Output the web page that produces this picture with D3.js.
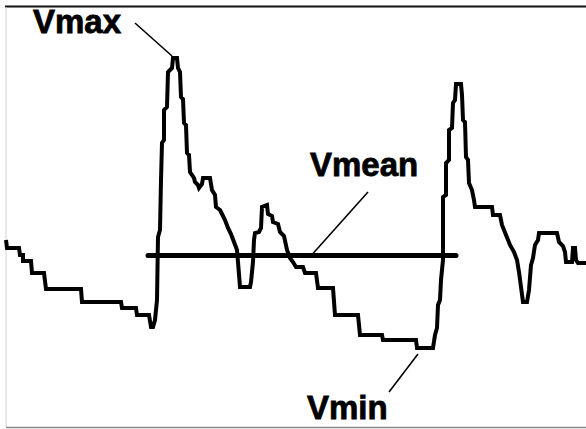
<!DOCTYPE html>
<html>
<head>
<meta charset="utf-8">
<script src="https://cdn.jsdelivr.net/npm/d3@7"></script>
<style>
  html, body { margin: 0; padding: 0; background: #fff; }
  svg { display: block; }
</style>
</head>
<body>
<div id="chart"></div>
<script>
// sample time (arbitrary units) and velocity (arbitrary units)
var times = [0, 1, 13, 14, 17, 17, 25, 26, 38, 40, 75, 76, 115, 116, 130, 131, 143, 145, 147, 149, 151, 152, 154, 155,
  156, 158, 158, 161, 162, 166, 167, 171, 172, 174, 175, 177, 178, 180, 181, 183, 184, 188, 189, 192, 193, 196, 197, 204,
  206, 209, 210, 214, 216, 219, 222, 225, 228, 231, 232, 234, 244, 245, 247, 248, 249, 253, 255, 256, 261, 262, 266, 267,
  272, 274, 278, 281, 284, 287, 290, 297, 299, 310, 312, 327, 329, 352, 354, 376, 377, 410, 411, 427, 429, 431, 432, 434,
  435, 437, 437, 440, 440, 443, 443, 446, 447, 449, 450, 455, 456, 457, 459, 460, 462, 463, 466, 468, 469, 486, 487, 494,
  496, 500, 504, 508, 511, 513, 515, 517, 521, 523, 525, 527, 529, 532, 533, 551, 553, 557, 559, 560, 566, 567, 569, 570,
  572, 580];
var velocity = [180, 172, 172, 165, 165, 159, 159, 147, 147, 131, 131, 118, 118, 112, 112, 105, 105, 93, 93, 100, 120,
  183, 190, 240, 277, 280, 310, 313, 348, 352, 362, 362, 352, 348, 323, 321, 297, 295, 267, 265, 248, 242, 238, 235, 232,
  236, 242, 242, 230, 225, 213, 210, 206, 200, 192, 186, 178, 170, 158, 133, 133, 138, 158, 180, 187, 188, 192, 213, 215,
  206, 204, 198, 196, 188, 184, 170, 162, 158, 153, 153, 147, 147, 132, 132, 105, 105, 85, 85, 80, 80, 72, 72, 85, 92,
  115, 120, 140, 160, 223, 225, 257, 260, 290, 292, 317, 320, 336, 336, 325, 300, 298, 263, 260, 237, 230, 220, 213, 213,
  205, 205, 195, 185, 175, 168, 160, 148, 133, 118, 118, 130, 155, 162, 175, 180, 187, 187, 178, 174, 168, 158, 158, 172,
  172, 160, 157, 157];

var labels = ['Vmax', 'Vmean', 'Vmin'];
var meanVelocity = 164.5;
var meanStart = 142;
var meanEnd = 450;

var width = 586;
var height = 429;

var data = times.map(function (t, i) {
  return { t: t, v: velocity[i] };
});

var x = d3.scaleLinear().domain([0, 580]).range([6, 586]);
var y = d3.scaleLinear().domain([0, 420]).range([420, 0]);

var svg = d3.select('#chart').append('svg')
  .attr('width', width)
  .attr('height', height);

// frame: dark rule on top, faint edges left and bottom
svg.append('line')
  .attr('x1', 5).attr('x2', width).attr('y1', 6.5).attr('y2', 6.5)
  .attr('stroke', '#111').attr('stroke-width', 2);
svg.append('line')
  .attr('x1', 6).attr('x2', 6).attr('y1', 7).attr('y2', 427)
  .attr('stroke', '#d0d0d0').attr('stroke-width', 1);
svg.append('line')
  .attr('x1', 6).attr('x2', width).attr('y1', 427.5).attr('y2', 427.5)
  .attr('stroke', '#888').attr('stroke-width', 1.5);

var line = d3.line()
  .x(function (d) { return x(d.t); })
  .y(function (d) { return y(d.v); });

svg.append('path')
  .datum(data)
  .attr('d', line)
  .attr('fill', 'none')
  .attr('stroke', '#000')
  .attr('stroke-width', 4)
  .attr('stroke-linejoin', 'miter');

// mean velocity bar
svg.append('line')
  .attr('x1', x(meanStart)).attr('x2', x(meanEnd))
  .attr('y1', y(meanVelocity)).attr('y2', y(meanVelocity))
  .attr('stroke', '#000')
  .attr('stroke-width', 5)
  .attr('stroke-linecap', 'round');

// peak of the first beat, trough before the second one
var maxPoint = data.reduce(function (a, b) { return b.v > a.v ? b : a; });
var minPoint = data.filter(function (d) { return d.t > 300 && d.t < 440; })
  .reduce(function (a, b) { return b.v < a.v ? b : a; });

var leaders = [
  { x1: 135, y1: 23, x2: x(maxPoint.t) - 1, y2: y(maxPoint.v) - 2 },
  { x1: 368, y1: 192, x2: 313, y2: y(meanVelocity) - 2 },
  { x1: 389, y1: 392, x2: x(minPoint.t) + 1, y2: y(minPoint.v) + 6 }
];

svg.selectAll('.leader')
  .data(leaders)
  .enter()
  .append('line')
  .attr('class', 'leader')
  .attr('x1', function (d) { return d.x1; })
  .attr('y1', function (d) { return d.y1; })
  .attr('x2', function (d) { return d.x2; })
  .attr('y2', function (d) { return d.y2; })
  .attr('stroke', '#000')
  .attr('stroke-width', 1.6);

var labelPos = [[33, 33], [310, 176], [307, 419]];

svg.selectAll('.lbl')
  .data(labels)
  .enter()
  .append('text')
  .attr('class', 'lbl')
  .attr('x', function (d, i) { return labelPos[i][0]; })
  .attr('y', function (d, i) { return labelPos[i][1]; })
  .style('font-family', '"Liberation Sans", Arial, sans-serif')
  .style('font-weight', 'bold')
  .style('font-size', '33px')
  .attr('fill', '#000')
  .attr('stroke', '#000')
  .attr('stroke-width', 0.8)
  .text(function (d) { return d; });
</script>
</body>
</html>
